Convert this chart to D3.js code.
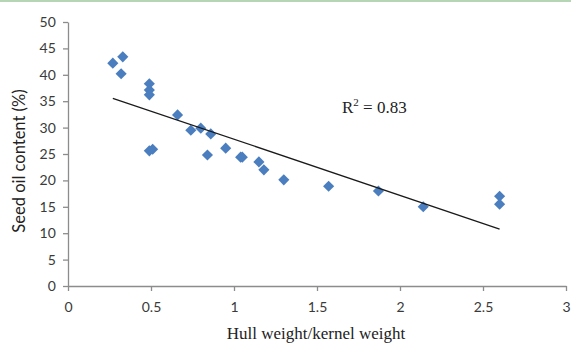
<!DOCTYPE html>
<html>
<head>
<meta charset="utf-8">
<script src="https://cdn.jsdelivr.net/npm/d3@7"></script>
<style>
  body { margin: 0; background: #fff; }
  svg { display: block; }
</style>
</head>
<body>
<script>
// hull/kernel ratio vs seed oil content
const hullRatio = [0.27, 0.33, 0.32, 0.49, 0.49, 0.49, 0.51, 0.49, 0.66, 0.74, 0.80, 0.86,
                   0.84, 0.95, 1.04, 1.05, 1.15, 1.18, 1.30, 1.57, 1.87, 2.14, 2.60, 2.60];
const oilContent = [42.2, 43.4, 40.2, 38.3, 37.1, 36.2, 25.9, 25.6, 32.4, 29.5, 29.9, 28.8,
                    24.8, 26.1, 24.4, 24.4, 23.5, 22.0, 20.1, 18.9, 18.0, 15.0, 17.0, 15.5];
const xTicks = [0, 0.5, 1, 1.5, 2, 2.5, 3];
const yTicks = [0, 5, 10, 15, 20, 25, 30, 35, 40, 45, 50];
const r2Label = "0.83";

const W = 571, H = 344;
const svg = d3.select("body").append("svg").attr("width", W).attr("height", H);

svg.append("rect").attr("x", 0).attr("y", 0).attr("width", W).attr("height", 2)
  .attr("fill", "#b5d5b5");

const x = d3.scaleLinear().domain([0, 3]).range([68, 566]);
const y = d3.scaleLinear().domain([0, 50]).range([286, 22]);

const axisCol = "#8c8c8c";
const tickFont = "Lato, 'Open Sans', sans-serif";

const gx = svg.append("g").attr("transform", `translate(0,${y(0)})`)
  .call(d3.axisBottom(x).tickValues(xTicks).tickSize(5).tickSizeOuter(0)
    .tickFormat(d => d));
const gy = svg.append("g").attr("transform", `translate(${x(0)},0)`)
  .call(d3.axisLeft(y).tickValues(yTicks).tickSize(5).tickSizeOuter(0));

[gx, gy].forEach(g => {
  g.select(".domain").attr("stroke", axisCol).attr("stroke-width", 1.3);
  g.selectAll(".tick line").attr("stroke", axisCol).attr("stroke-width", 1.3);
  g.selectAll(".tick text").attr("fill", "#3a3a3a").attr("font-size", 14)
    .attr("font-family", tickFont);
});
gx.selectAll(".tick text").attr("dy", "1.25em");
gy.selectAll(".tick text").attr("dx", "-0.3em");

// least squares trend line over the data range
const n = hullRatio.length;
const mx = d3.mean(hullRatio), my = d3.mean(oilContent);
let sxy = 0, sxx = 0;
for (let i = 0; i < n; i++) {
  sxy += (hullRatio[i] - mx) * (oilContent[i] - my);
  sxx += (hullRatio[i] - mx) ** 2;
}
const slope = sxy / sxx, icpt = my - slope * mx;
const [x0, x1] = d3.extent(hullRatio);

const pts = hullRatio.map((v, i) => ({ x: v, y: oilContent[i] }));
svg.append("g").selectAll("path").data(pts).enter().append("path")
  .attr("d", d3.symbol(d3.symbolSquare, 62))
  .attr("transform", d => `translate(${x(d.x)},${y(d.y)}) rotate(45)`)
  .attr("fill", "#4a7ebf");

svg.append("line")
  .attr("x1", x(x0)).attr("y1", y(icpt + slope * x0))
  .attr("x2", x(x1)).attr("y2", y(icpt + slope * x1))
  .attr("stroke", "#1a1a1a").attr("stroke-width", 1.3);

const r2 = svg.append("text").attr("x", 342).attr("y", 113)
  .attr("font-family", "'Liberation Serif', 'Times New Roman', serif")
  .attr("font-size", 17).attr("fill", "#222");
r2.append("tspan").text("R");
r2.append("tspan").attr("font-size", 11).attr("dy", -7).text("2");
r2.append("tspan").attr("dy", 7).text(" = " + r2Label);

svg.append("text").attr("x", 316).attr("y", 339).attr("text-anchor", "middle")
  .attr("font-family", "'Liberation Serif', 'Times New Roman', serif")
  .attr("font-size", 17).attr("fill", "#222").text("Hull weight/kernel weight");

svg.append("text").attr("transform", "translate(25,161) rotate(-90)")
  .attr("text-anchor", "middle").attr("font-family", tickFont)
  .attr("font-size", 16.5).attr("fill", "#222").text("Seed oil content (%)");
</script>
</body>
</html>
